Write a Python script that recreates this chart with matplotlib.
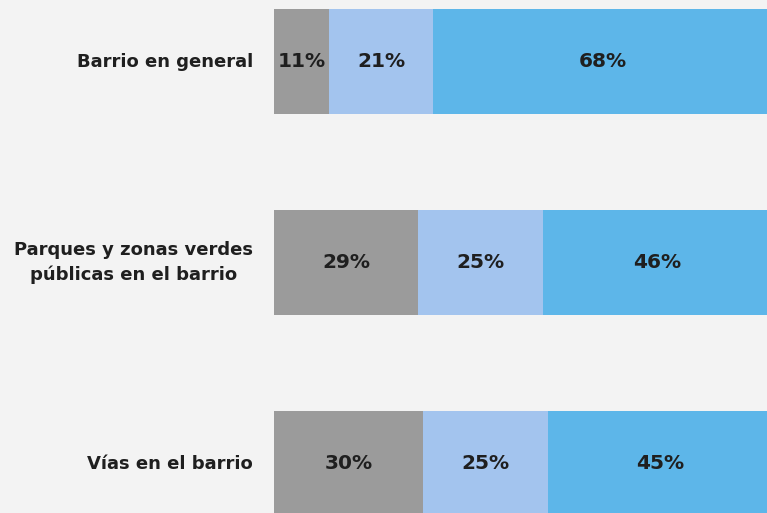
import matplotlib
matplotlib.use("Agg")
import matplotlib.pyplot as plt

categories = ["Barrio en general", "Parques y zonas verdes\npúblicas en el barrio", "Vías en el barrio"]
gris = [11, 29, 30]
azul_claro = [21, 25, 25]
azul = [68, 46, 45]

colors = ["#9b9b9b", "#a3c4ee", "#5db6e9"]
bg = "#f3f3f3"

fig = plt.figure(figsize=(7.67, 5.13), dpi=100, facecolor=bg)
# axes reach past the right edge, the source image is cropped there
ax = fig.add_axes([274 / 767, 0, 498 / 767, 1])
ax.set_facecolor(bg)

y = list(range(len(categories)))
left = [0] * len(categories)
for vals, c in zip([gris, azul_claro, azul], colors):
    ax.barh(y, vals, left=left, height=0.522, color=c, edgecolor="none")
    for yi, l, v in zip(y, left, vals):
        ax.text(l + v / 2, yi, f"{v}%", ha="center", va="center",
                fontsize=14.5, fontweight="bold", color="#1f1f1f")
    left = [a + b for a, b in zip(left, vals)]

ax.set_xlim(0, 100)
ax.set_ylim(2.246, -0.306)
ax.set_xticks([])
ax.set_yticks([])
for s in ax.spines.values():
    s.set_visible(False)

for yi, cat in zip(y, categories):
    ax.annotate(cat, xy=(0, yi), xycoords="data", xytext=(-15, 0),
                textcoords="offset points", ha="right", va="center",
                multialignment="center", fontsize=13, fontweight="bold",
                color="#1f1f1f", linespacing=1.45, annotation_clip=False)

fig.savefig("out.png", dpi=100, facecolor=bg)
